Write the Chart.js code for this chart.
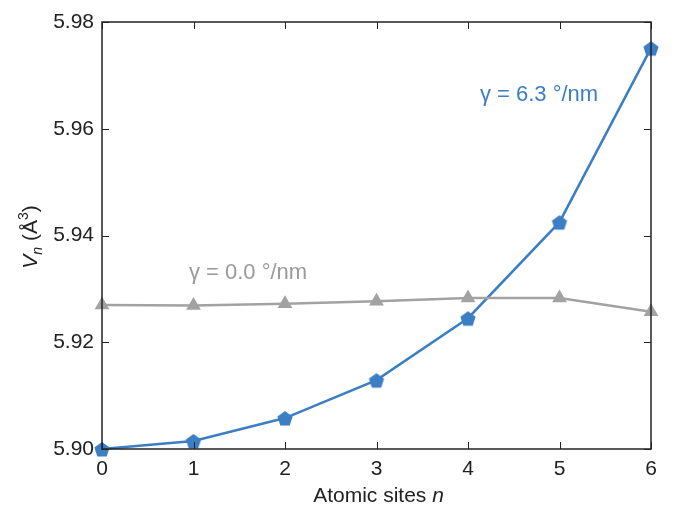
<!DOCTYPE html>
<html><head><meta charset="utf-8">
<script src="https://cdn.jsdelivr.net/npm/chart.js@4/dist/chart.umd.min.js"></script>
<style>html,body{margin:0;padding:0;background:#fff}#wrap{width:674px;height:506px}</style>
</head><body><div id="wrap"><canvas id="c" width="674" height="506"></canvas></div>
<script>
const sites = [0, 1, 2, 3, 4, 5, 6];
const volGamma63 = [5.9000, 5.9015, 5.9058, 5.9129, 5.9245, 5.9425, 5.9751];
const volGamma00 = [5.9270, 5.9269, 5.9272, 5.9277, 5.9283, 5.9283, 5.9257];
const yTicks = [5.90, 5.92, 5.94, 5.96, 5.98];
const xTicks = [0, 1, 2, 3, 4, 5, 6];
const labelBlue = "γ = 6.3 °/nm";
const labelGray = "γ = 0.0 °/nm";

const BLUE = '#3b7ec3', GRAY = '#a2a2a2';
const FONT = '"Liberation Sans", Arial, sans-serif';

function pentagon(color, r) {
  const c = document.createElement('canvas');
  const s = Math.ceil(r * 2 + 2);
  c.width = s; c.height = s;
  const g = c.getContext('2d');
  g.fillStyle = color;
  g.beginPath();
  for (let i = 0; i < 5; i++) {
    const a = -Math.PI / 2 + i * 2 * Math.PI / 5;
    const px = s / 2 + r * Math.cos(a), py = s / 2 + 1 + r * Math.sin(a);
    i ? g.lineTo(px, py) : g.moveTo(px, py);
  }
  g.closePath(); g.fill();
  return c;
}

const toXY = (xs, ys) => xs.map((x, i) => ({x, y: ys[i]}));

const boxPlugin = {
  id: 'box',
  afterDraw(chart) {
    const {ctx, chartArea: a, scales: {x, y}} = chart;
    ctx.save();
    ctx.strokeStyle = '#222'; ctx.lineWidth = 1.5;
    ctx.strokeRect(a.left, a.top, a.right - a.left, a.bottom - a.top);
    ctx.lineWidth = 1;
    const L = 7;
    ctx.beginPath();
    xTicks.forEach(v => {
      const px = Math.round(x.getPixelForValue(v)) + 0.5;
      ctx.moveTo(px, a.bottom); ctx.lineTo(px, a.bottom - L);
      ctx.moveTo(px, a.top); ctx.lineTo(px, a.top + L);
    });
    yTicks.forEach(v => {
      const py = Math.round(y.getPixelForValue(v)) + 0.5;
      ctx.moveTo(a.left, py); ctx.lineTo(a.left + L, py);
      ctx.moveTo(a.right, py); ctx.lineTo(a.right - L, py);
    });
    ctx.stroke();

    // annotations
    ctx.textBaseline = 'middle'; ctx.textAlign = 'left';
    ctx.font = '22px ' + FONT;
    ctx.fillStyle = BLUE;
    ctx.fillText(labelBlue, x.getPixelForValue(4.13), y.getPixelForValue(5.9664));
    ctx.fillStyle = '#999';
    ctx.fillText(labelGray, x.getPixelForValue(0.95), y.getPixelForValue(5.9330));

    // x title
    ctx.fillStyle = '#222';
    ctx.textBaseline = 'alphabetic';
    const t1 = 'Atomic sites ', t2 = 'n';
    ctx.font = '21px ' + FONT;
    const w1 = ctx.measureText(t1).width;
    ctx.font = 'italic 21px ' + FONT;
    const w2 = ctx.measureText(t2).width;
    const cx = (a.left + a.right) / 2 + 2;
    let sx = cx - (w1 + w2) / 2;
    ctx.font = '21px ' + FONT; ctx.fillText(t1, sx, 502);
    ctx.font = 'italic 21px ' + FONT; ctx.fillText(t2, sx + w1, 502);

    // y title
    ctx.translate(37, 237);
    ctx.rotate(-Math.PI / 2);
    const parts = [
      {t: 'V', f: 'italic 21px ' + FONT, dy: 0},
      {t: 'n', f: 'italic 14px ' + FONT, dy: 5},
      {t: ' (Å', f: '21px ' + FONT, dy: 0},
      {t: '3', f: '14px ' + FONT, dy: -9},
      {t: ')', f: '21px ' + FONT, dy: 0}
    ];
    let tw = 0;
    parts.forEach(p => { ctx.font = p.f; p.w = ctx.measureText(p.t).width; tw += p.w; });
    let px = -tw / 2;
    parts.forEach(p => { ctx.font = p.f; ctx.fillText(p.t, px, p.dy); px += p.w; });
    ctx.restore();
  }
};

new Chart(document.getElementById('c'), {
  type: 'line',
  data: {
    datasets: [
      {
        label: labelGray,
        data: toXY(sites, volGamma00),
        borderColor: GRAY, backgroundColor: GRAY,
        borderWidth: 2.5, pointStyle: 'triangle', pointRadius: 8.5, pointHoverRadius: 8.5,
        pointBorderWidth: 0, clip: false, tension: 0
      },
      {
        label: labelBlue,
        data: toXY(sites, volGamma63),
        borderColor: BLUE, backgroundColor: BLUE,
        borderWidth: 2.5, pointStyle: pentagon(BLUE, 8), pointRadius: 8,
        clip: false, tension: 0
      }
    ]
  },
  options: {
    responsive: false, animation: false,
    events: [],
    layout: {padding: {top: 22, right: 23, left: 0, bottom: 0}},
    plugins: {legend: {display: false}, tooltip: {enabled: false}},
    scales: {
      x: {
        type: 'linear', min: 0, max: 6,
        afterBuildTicks: s => { s.ticks = xTicks.map(v => ({value: v})); },
        afterFit: s => { s.height = 57; },
        grid: {display: false, drawTicks: false},
        border: {display: false},
        ticks: {padding: 8, color: '#222', font: {family: FONT, size: 21}}
      },
      y: {
        type: 'linear', min: 5.90, max: 5.98,
        afterBuildTicks: s => { s.ticks = yTicks.map(v => ({value: v})); },
        afterFit: s => { s.width = 102; },
        grid: {display: false, drawTicks: false},
        border: {display: false},
        ticks: {padding: 8, color: '#222', font: {family: FONT, size: 21},
                callback: v => Number(v).toFixed(2)}
      }
    }
  },
  plugins: [boxPlugin]
});
</script></body></html>
